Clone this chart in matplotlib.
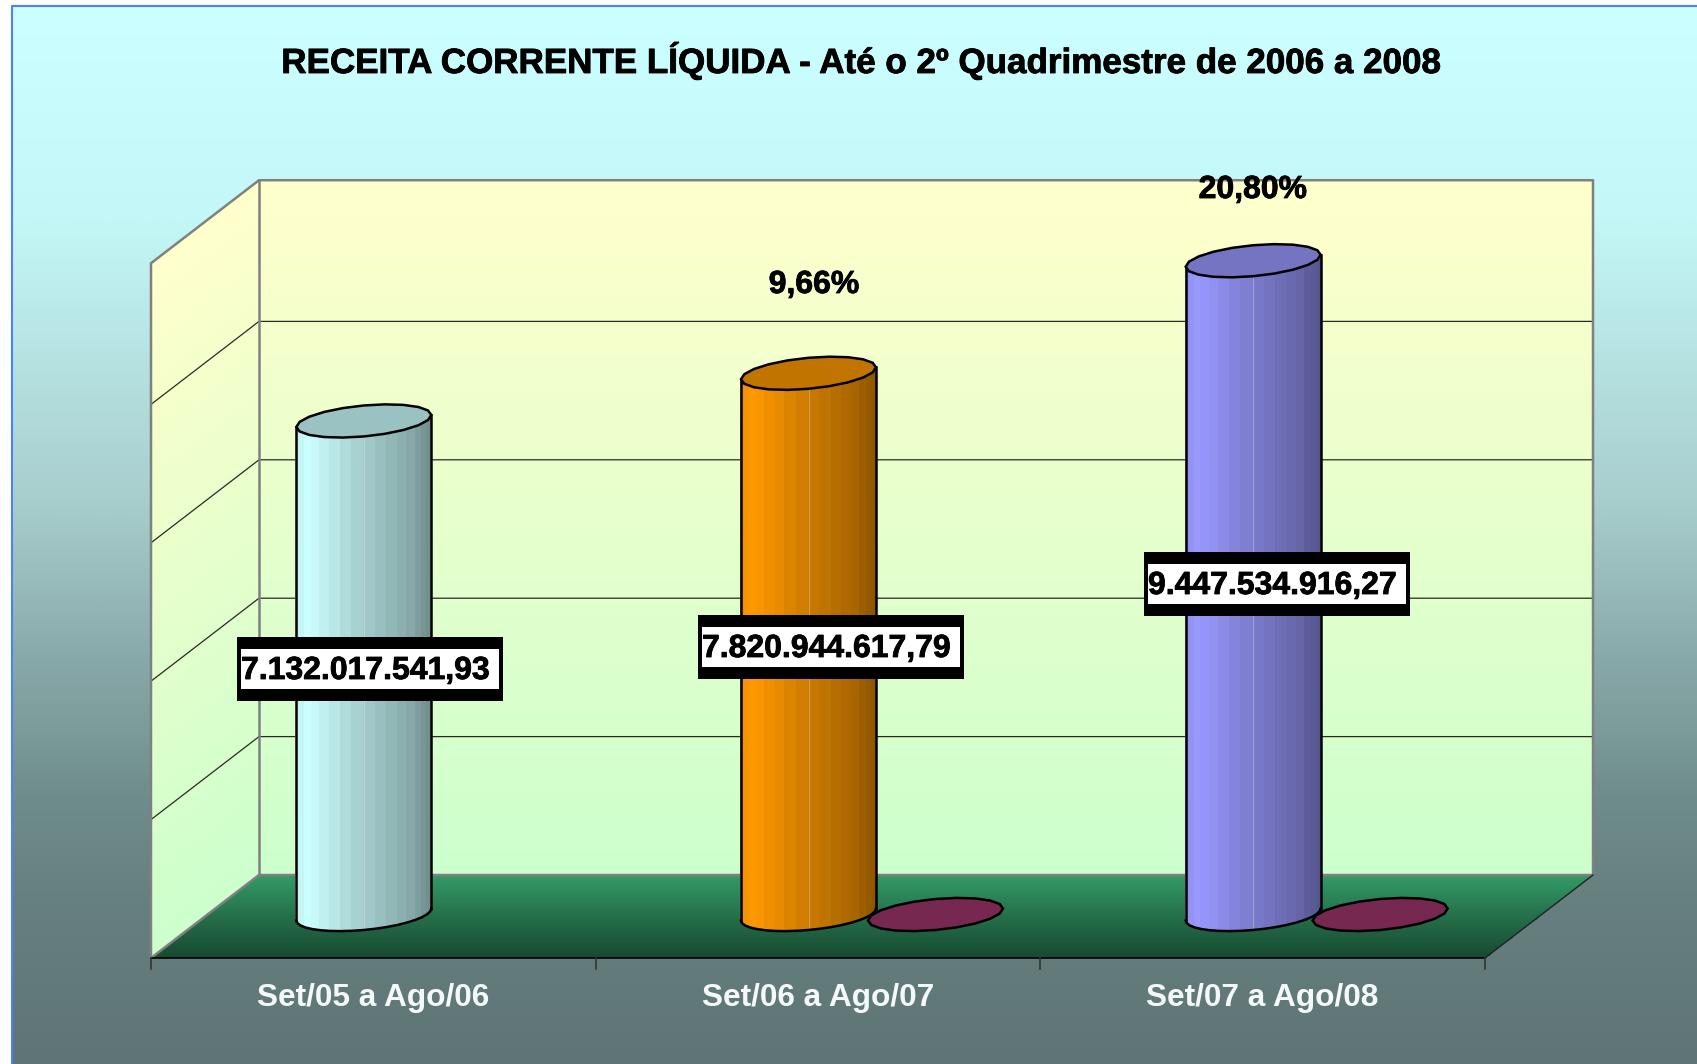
import numpy as np
import matplotlib
matplotlib.use('Agg')
import matplotlib.pyplot as plt
import matplotlib.patheffects as pe
from matplotlib.colors import LinearSegmentedColormap, to_rgb
from matplotlib.patches import Polygon, Rectangle
from matplotlib.transforms import Affine2D

W, H = 1697, 1064

categories = ['Set/05 a Ago/06', 'Set/06 a Ago/07', 'Set/07 a Ago/08']
receita = [7132017541.93, 7820944617.79, 9447534916.27]
receita_labels = ['7.132.017.541,93', '7.820.944.617,79', '9.447.534.916,27']
variacao = [None, 0.0966, 0.2080]
variacao_labels = ['9,66%', '20,80%']
bar_colors = ['#CCFFFF', '#FF9900', '#9999FF']
blob_color = '#772850'
grid_values = [2e9, 4e9, 6e9, 8e9]

plt.rcParams['font.family'] = ['Liberation Sans', 'DejaVu Sans']
plt.rcParams['font.weight'] = 'bold'

fig = plt.figure(figsize=(W / 100, H / 100), dpi=100, facecolor='white')
# pixel coords, y down, for the loose text and boxes
px = Affine2D().scale(1 / W, -1 / H).translate(0, 1) + fig.transFigure
heavy = [pe.withStroke(linewidth=0.6, foreground='black')]

# page background
bg = fig.add_axes([12 / W, 0, 1 - 12 / W, 1 - 6 / H])
bg.axis('off')
stops = [(0, '#CCFFFF'), (0.2, '#C4F7F7'), (0.47, '#A8CDCD'), (0.61, '#8AABAB'),
         (0.75, '#6F8C8C'), (0.85, '#667F7F'), (1, '#5F7575')]
bg_cmap = LinearSegmentedColormap.from_list('bg', stops)
bg.imshow(np.linspace(0, 1, 512)[:, None], cmap=bg_cmap, aspect='auto')
fig.add_artist(plt.Line2D([12, 12, W], [H, 6, 6], color='#4D80FF', lw=1.5, transform=px))

# front plane of the chart box
ax = fig.add_axes([151 / W, 1 - 958 / H, 1334 / W, 695 / H])
ax.set_xlim(-0.5, 2.5)
ax.set_ylim(0, 695 / 138.4 * 2e9)
ax.patch.set_visible(False)
for s in ax.spines.values():
    s.set_visible(False)
ax.set_yticks([])

ux = 444.67
uy = 138.4 / 2e9
dep_x = 108 / ux
dep_y = 83 / uy
ymax = 10.04e9

wall_cmap = LinearSegmentedColormap.from_list('wall', ['#CCFFCC', '#FFFFCC'])
floor_cmap = LinearSegmentedColormap.from_list('floor', ['#174A30', '#246F4A', '#339966'])

# back wall
yy = np.linspace(0, ymax, 60)
X = np.array([[-0.5 + dep_x, 2.5 + dep_x]] * 60)
Y = np.column_stack([yy, yy]) + dep_y
ax.pcolormesh(X, Y, yy[:-1, None] / ymax, cmap=wall_cmap, shading='flat', clip_on=False, zorder=1)
# left wall
X = np.array([[-0.5, -0.5 + dep_x]] * 60)
Y = np.column_stack([yy, yy + dep_y])
ax.pcolormesh(X, Y, yy[:-1, None] / ymax, cmap=wall_cmap, shading='flat', clip_on=False, zorder=1)
# floor
dd = np.linspace(0, 1, 40)
X = np.column_stack([-0.5 + dd * dep_x, 2.5 + dd * dep_x])
Y = np.column_stack([dd * dep_y, dd * dep_y])
ax.pcolormesh(X, Y, dd[:-1, None], cmap=floor_cmap, shading='flat', clip_on=False, zorder=1)

# gridlines on both walls
for g in grid_values:
    ax.plot([-0.5, -0.5 + dep_x, 2.5 + dep_x], [g, g + dep_y, g + dep_y],
            color='#2A2A22', lw=0.9, clip_on=False, zorder=2)
gray = '#808080'
ax.plot([-0.5, -0.5, -0.5 + dep_x, 2.5 + dep_x, 2.5 + dep_x],
        [0, ymax, ymax + dep_y, ymax + dep_y, dep_y], color=gray, lw=1.8, clip_on=False, zorder=2)
ax.plot([-0.5 + dep_x, -0.5 + dep_x], [dep_y, ymax + dep_y], color=gray, lw=1.8, clip_on=False, zorder=2)
ax.plot([-0.5, -0.5 + dep_x, 2.5 + dep_x], [0, dep_y, dep_y], color=gray, lw=1.8, clip_on=False, zorder=2)
ax.plot([2.5, 2.5 + dep_x], [0, dep_y], color='#222222', lw=1, clip_on=False, zorder=2)
ax.plot([-0.5, 2.5], [0, 0], color='black', lw=1.2, clip_on=False, zorder=3)

# axis ticks
ax.set_xticks([0, 1, 2])
ax.set_xticklabels(categories)
ax.tick_params(axis='x', length=0, pad=18, labelsize=22.8, labelcolor='#F4F8F8')
for i in range(4):
    ax.plot([i - 0.5, i - 0.5], [0, -11 / uy], color='#333333', lw=1.2, clip_on=False, zorder=3)

shade_u = [0, 0.1, 0.5, 0.85, 1]
shade_v = [0.93, 1, 0.8, 0.66, 0.55]
radius = 67.5 / ux
ell_b = 15.5 / uy
ell_c = 6 / uy
gap = 63.5 / ux


def ellipse(cx, cy, t):
    return cx + radius * np.cos(t), cy + ell_b * np.sin(t) + ell_c * np.cos(t)


def cylinder(cx, value, color, z):
    base = dep_y / 2 + 2 / uy
    c = np.array(to_rgb(color))
    t = np.linspace(np.pi, 2 * np.pi, 19)
    x0, y0 = ellipse(cx, base, t)
    x1, y1 = ellipse(cx, base + value, t)
    if value > 1e8:
        u = 0.5 * (x0[:-1] + x0[1:] - 2 * cx + 2 * radius) / (2 * radius)
        shade = np.interp(u, shade_u, shade_v)
        rgb = np.clip(c[None, None, :] * shade[None, :, None], 0, 1)
        ax.pcolormesh(np.vstack([x0, x1]), np.vstack([y0, y1]), rgb, shading='flat',
                      clip_on=False, zorder=z, edgecolors='face', linewidth=0.2)
        # faint seam down the middle of the side
        ax.plot([cx, cx], [base - ell_b, base + value - ell_b], color='white', alpha=0.3, lw=0.8,
                clip_on=False, zorder=z)
        ax.plot(x0, y0, color='black', lw=1.8, clip_on=False, zorder=z)
        ax.plot([x0[0], x0[0]], [y0[0], y1[0]], color='black', lw=1.8, clip_on=False, zorder=z)
        ax.plot([x0[-1], x0[-1]], [y0[-1], y1[-1]], color='black', lw=1.8, clip_on=False, zorder=z)
        top_color = c * 0.76
    else:
        top_color = c
    tt = np.linspace(0, 2 * np.pi, 21)
    xt, yt = ellipse(cx, base + value, tt)
    ax.add_patch(Polygon(np.column_stack([xt, yt]), closed=True, facecolor=top_color,
                         edgecolor='black', lw=1.8, clip_on=False, zorder=z + 0.1))


for i in range(3):
    cylinder(i + dep_x / 2 - gap, receita[i], bar_colors[i], 4)
    if variacao[i] is not None:
        cylinder(i + dep_x / 2 + gap, variacao[i], blob_color, 5)

# value boxes: black block with a white inset
boxes = [(237, 637, 266, 64), (698, 615, 266, 64), (1144, 552, 266, 64)]
for (bx, by, bw, bh), lab in zip(boxes, receita_labels):
    fig.add_artist(Rectangle((bx, by), bw, bh, facecolor='black', edgecolor='none',
                             transform=px, zorder=10))
    fig.add_artist(Rectangle((bx + 4, by + 12), bw - 8, bh - 24, facecolor='white', edgecolor='none',
                             transform=px, zorder=11))
    fig.text(bx + 4, by + 42, lab, transform=px, fontsize=23, color='black',
             ha='left', va='baseline', zorder=12, path_effects=heavy)

fig.text(814, 293, variacao_labels[0], transform=px, fontsize=23, color='black',
         ha='center', va='baseline', zorder=12, path_effects=heavy)
fig.text(1253, 198, variacao_labels[1], transform=px, fontsize=23, color='black',
         ha='center', va='baseline', zorder=12, path_effects=heavy)
fig.text(861, 73, 'RECEITA CORRENTE LÍQUIDA - Até o 2º Quadrimestre de 2006 a 2008', transform=px,
         fontsize=25.2, color='black', ha='center', va='baseline', zorder=12, path_effects=heavy)

fig.savefig('out.png', dpi=100)
